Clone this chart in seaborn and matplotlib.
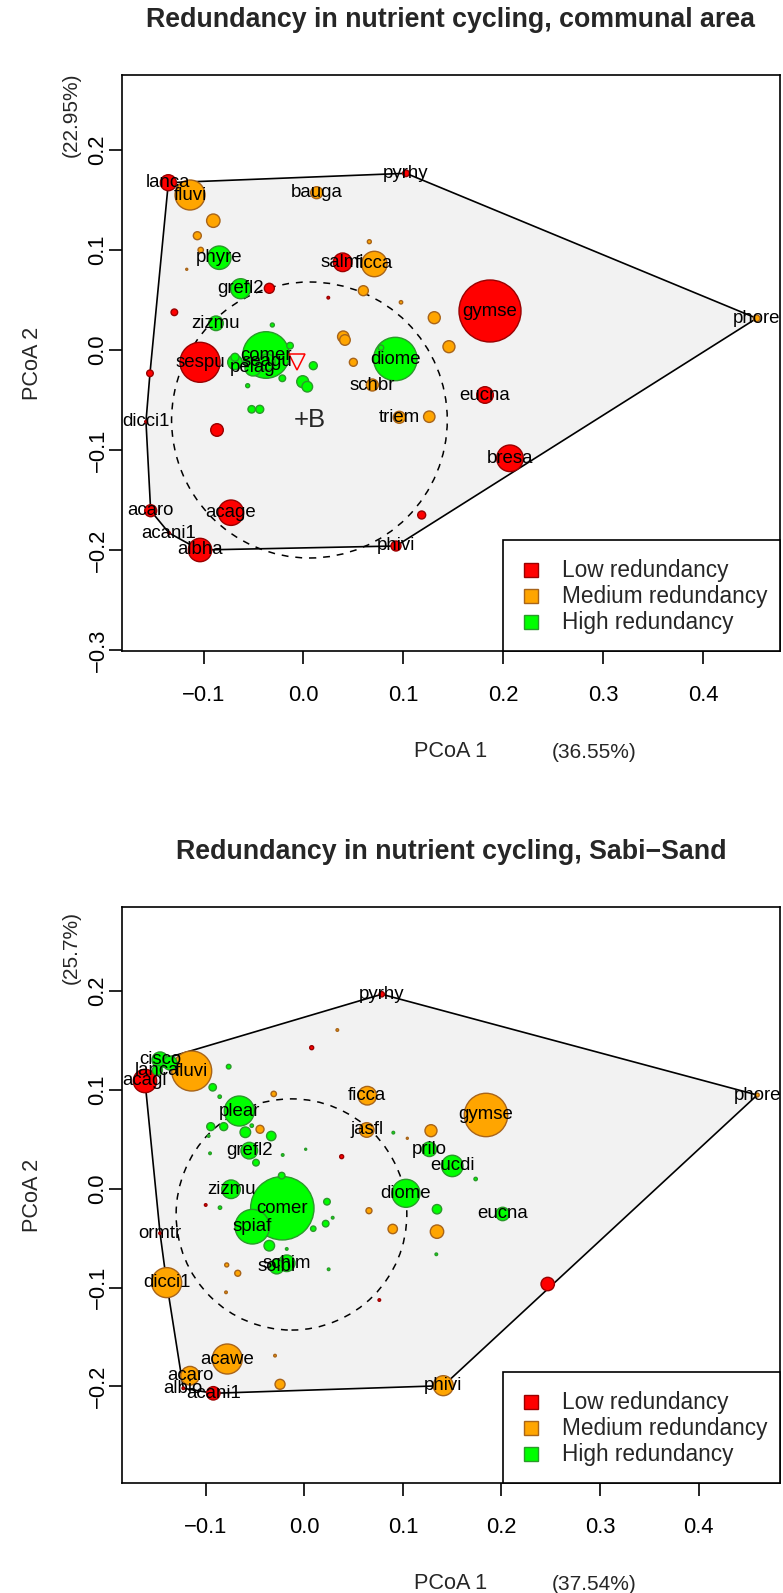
import numpy as np
import pandas as pd
import matplotlib
matplotlib.use("Agg")
import matplotlib.pyplot as plt
import seaborn as sns
from matplotlib.patches import Circle, Polygon, Rectangle

# ---------------- data : communal area ----------------
c_name = ["lanca", "fluvi", "bauga", "pyrhy", "", "", "", "", "phyre", "salmi",
          "ficca", "", "grefl2", "", "", "", "", "", "", "zizmu",
          "", "", "", "", "sespu", "comer", "", "", "pelag", "seagu",
          "", "", "", "", "", "", "", "", "", "diome",
          "", "", "schbr", "triem", "", "", "dicci1", "acaro", "acani1", "albha",
          "acage", "", "phivi", "gymse", "phore", "eucna", "bresa"]
c_x = [-0.1352, -0.1135, 0.0133, 0.1027, -0.0902, -0.1062, -0.1028, -0.1168, -0.0842, 0.0393,
       0.0710, 0.0660, -0.0628, -0.0341, 0.0249, 0.0600, 0.0977, 0.1310, -0.1292, -0.0875,
       -0.0311, 0.0399, 0.0416, 0.1457, -0.1035, -0.0374, -0.0685, -0.0685, -0.0505, -0.0364,
       -0.0134, 0.0099, -0.0211, -0.0558, -0.0007, 0.0039, -0.0518, -0.0437, -0.0865, 0.0920,
       0.0500, 0.0777, 0.0690, 0.0960, 0.1260, -0.1536, -0.1576, -0.1529, -0.1345, -0.1035,
       -0.0725, 0.1184, 0.0927, 0.1868, 0.4537, 0.1818, 0.2068]
c_y = [0.1673, 0.1550, 0.1573, 0.1767, 0.1293, 0.1143, 0.1000, 0.0807, 0.0923, 0.0877,
       0.0860, 0.1083, 0.0613, 0.0617, 0.0523, 0.0593, 0.0477, 0.0323, 0.0377, 0.0267,
       0.0250, 0.0133, 0.0100, 0.0033, -0.0123, -0.0050, -0.0123, -0.0073, -0.0180, -0.0120,
       0.0043, -0.0157, -0.0283, -0.0357, -0.0317, -0.0367, -0.0593, -0.0593, -0.0800, -0.0090,
       -0.0123, 0.0023, -0.0350, -0.0673, -0.0667, -0.0233, -0.0717, -0.1607, -0.1830, -0.2000,
       -0.1627, -0.1650, -0.1960, 0.0390, 0.0317, -0.0450, -0.1083]
c_w = [8, 15, 6, 3.3, 6.7, 4, 2.7, 1, 11.7, 9.3,
       12.7, 2, 10, 5, 1.3, 5, 1.7, 6, 3.3, 7.3,
       2, 5.7, 5.3, 6, 20, 23.3, 7.3, 4, 8, 8,
       3.3, 4, 3.3, 2, 6, 5.3, 3.7, 4, 6.3, 21.7,
       4, 2.7, 6, 6, 5.7, 3.3, 1.3, 6, 1.3, 11.7,
       12.7, 4, 5, 31, 3.3, 8.3, 13.3]
c_lvl = ["L", "M", "M", "L", "M", "M", "M", "M", "H", "L",
         "M", "M", "H", "L", "L", "M", "M", "M", "L", "H",
         "H", "M", "M", "M", "L", "H", "H", "H", "H", "H",
         "H", "H", "H", "H", "H", "H", "H", "H", "L", "H",
         "M", "H", "M", "M", "M", "L", "L", "L", "L", "L",
         "L", "L", "L", "L", "M", "L", "L"]
c_centroid = (0.006, -0.070)
c_radius = 0.138
c_tri = (-0.0067, -0.0117)

# ---------------- data : Sabi-Sand ----------------
s_name = ["pyrhy", "", "", "cisco", "lanca", "acagl", "fluvi", "", "", "",
          "", "plear", "ficca", "jasfl", "", "", "", "prilo", "", "",
          "", "", "", "", "", "grefl2", "", "", "", "",
          "", "comer", "spiaf", "zizmu", "", "", "", "", "", "",
          "", "", "", "schim", "solbi", "", "", "", "", "",
          "diome", "", "", "", "", "", "ormtr", "dicci1", "gymse", "phore",
          "eucdi", "", "eucna", "", "acawe", "", "acaro", "", "acani1", "albio",
          "phivi", ""]
s_x = [0.0785, 0.0335, 0.0075, -0.1463, -0.1490, -0.1616, -0.1142, -0.0767, -0.0929, -0.0858,
       -0.0310, -0.0659, 0.0639, 0.0633, 0.0903, 0.1045, 0.1285, 0.1268, -0.0949, -0.0817,
       -0.0533, -0.0598, -0.0449, -0.0335, -0.0970, -0.0558, -0.0956, -0.0219, 0.0014, 0.0379,
       -0.0490, -0.0223, -0.0527, -0.0743, -0.1000, -0.0855, -0.0229, -0.0355, 0.0230, 0.0217,
       0.0288, 0.0091, -0.0178, -0.0178, -0.0280, 0.0247, -0.0787, -0.0675, -0.0794, 0.0761,
       0.1031, 0.0656, 0.0897, 0.1346, 0.1346, 0.1339, -0.1463, -0.1396, 0.1843, 0.4594,
       0.1501, 0.1738, 0.2012, 0.2469, -0.0781, -0.0297, -0.1159, -0.0246, -0.0923, -0.1227,
       0.1410, -0.1362]
s_y = [0.1969, 0.1607, 0.1428, 0.1304, 0.1200, 0.1091, 0.1192, 0.1236, 0.1027, 0.0932,
       0.0960, 0.0787, 0.0942, 0.0595, 0.0568, 0.0511, 0.0588, 0.0400, 0.0629, 0.0629,
       0.0639, 0.0572, 0.0602, 0.0534, 0.0534, 0.0386, 0.0359, 0.0342, 0.0400, 0.0325,
       0.0264, -0.0197, -0.0384, -0.0005, -0.0164, -0.0191, 0.0133, -0.0576, -0.0131, -0.0353,
       -0.0293, -0.0404, -0.0609, -0.0754, -0.0788, -0.0815, -0.0771, -0.0855, -0.1048, -0.1126,
       -0.0046, -0.0222, -0.0407, -0.0207, -0.0434, -0.0663, -0.0450, -0.0950, 0.0747, 0.0949,
       0.0231, 0.0099, -0.0255, -0.0964, -0.1723, -0.1689, -0.1892, -0.1979, -0.2070, -0.2019,
       -0.1993, 0.1273]
s_w = [2.7, 1.3, 2, 8, 5, 11.7, 20, 2.3, 3.7, 1.7,
       2.7, 15, 9.3, 7.3, 1.3, 1, 6, 7.3, 4, 4,
       1.7, 5.3, 4, 4.7, 1.3, 8.3, 1.3, 1.3, 1, 2,
       3.3, 31.7, 17.3, 9.3, 1.3, 1.7, 3.3, 5.3, 3.3, 3.3,
       1.3, 2.7, 1.3, 8.3, 7.3, 1.3, 2, 3, 1.3, 1.3,
       14, 3, 4.7, 4.7, 6.7, 1.3, 1.3, 15, 21.7, 2,
       10.7, 1.7, 6.7, 6.7, 15, 1.3, 9.3, 5, 6.7, 1.3,
       10, 7]
s_lvl = ["L", "M", "L", "H", "H", "L", "M", "H", "H", "H",
         "M", "H", "M", "M", "H", "M", "M", "H", "H", "H",
         "H", "H", "M", "H", "H", "H", "H", "H", "H", "L",
         "H", "H", "H", "H", "L", "H", "H", "H", "H", "H",
         "H", "H", "H", "H", "H", "H", "M", "M", "M", "L",
         "H", "M", "M", "H", "M", "H", "L", "M", "M", "M",
         "H", "H", "H", "L", "M", "M", "M", "M", "L", "L",
         "M", "H"]
s_centroid = (-0.013, -0.026)
s_radius = 0.117

levels = ["L", "M", "H"]
level_labels = ["Low redundancy", "Medium redundancy", "High redundancy"]
fill_pal = {"L": "#FF0000", "M": "#FFA500", "H": "#00FF00"}
edge_pal = {"L": "#9A0000", "M": "#A8641A", "H": "#2A9A2A"}

panel_titles = ["Redundancy in nutrient cycling, communal area",
                "Redundancy in nutrient cycling, Sabi\u2212Sand"]
xvar = ["(36.55%)", "(37.54%)"]
yvar = ["(22.95%)", "(25.7%)"]
xticks = [-0.1, 0.0, 0.1, 0.2, 0.3, 0.4]
yticks1 = [-0.3, -0.2, -0.1, 0.0, 0.1, 0.2]
yticks2 = [-0.2, -0.1, 0.0, 0.1, 0.2]

# ---------------- figure ----------------
sns.set_style("white")
plt.rcParams["font.family"] = ["Liberation Sans", "DejaVu Sans"]

W, H = 783, 1593
fig = plt.figure(figsize=(W / 100, H / 100), dpi=100)
AX_L, AX_R, AX_H = 121.7, 780, 576


def rect(l, t, r, b):
    return [l / W, 1 - b / H, (r - l) / W, (b - t) / H]


def hull(pts):
    pts = sorted(set(map(tuple, pts)))

    def cross(o, a, b):
        return (a[0] - o[0]) * (b[1] - o[1]) - (a[1] - o[1]) * (b[0] - o[0])
    lower, upper = [], []
    for p in pts:
        while len(lower) >= 2 and cross(lower[-2], lower[-1], p) <= 0:
            lower.pop()
        lower.append(p)
    for p in reversed(pts):
        while len(upper) >= 2 and cross(upper[-2], upper[-1], p) <= 0:
            upper.pop()
        upper.append(p)
    return lower[:-1] + upper[:-1]


def fmt(v):
    return ("%.1f" % v).replace("-", "\u2212")


def legend_box(ax):
    aw = AX_R - AX_L
    fx = lambda px: (px - AX_L) / aw
    fy = lambda px: px / AX_H          # px above the axes bottom
    ax.add_patch(Rectangle((fx(502.7), 0), 1 - fx(502.7), fy(111), transform=ax.transAxes,
                           facecolor="white", edgecolor="black", lw=1.2, zorder=6,
                           clip_on=False))
    rows = [81.0, 55.0, 29.0]
    sq = 14.5
    for l, lab, ry in zip(levels, level_labels, rows):
        ax.add_patch(Rectangle((fx(531 - sq / 2), fy(ry - sq / 2)), sq / aw, sq / AX_H,
                               transform=ax.transAxes, facecolor=fill_pal[l],
                               edgecolor=edge_pal[l], lw=1.0, zorder=7))
        ax.text(fx(561.6), fy(ry), lab, transform=ax.transAxes, ha="left", va="center",
                fontsize=16.3, zorder=7)


def panel(ax, name, x, y, w, lvl, centroid, radius, xlim, ylim, yticks):
    df = pd.DataFrame({"name": name, "x": x, "y": y, "w": w, "level": lvl})
    ax.set_xlim(*xlim)
    ax.set_ylim(*ylim)
    hp = hull(df[["x", "y"]].values)
    ax.add_patch(Polygon(hp, closed=True, facecolor="#F2F2F2", edgecolor="black",
                         lw=1.2, zorder=1))
    ax.add_patch(Circle(centroid, radius, fill=False, edgecolor="black", lw=1.1,
                        linestyle=(0, (4.5, 4.5)), zorder=2))
    d = df.sort_values("w", ascending=False).reset_index(drop=True)
    d["area"] = (1.44 * d["w"]) ** 2
    amin, amax = d["area"].min(), d["area"].max()
    sns.scatterplot(data=d, x="x", y="y", hue="level", hue_order=levels,
                    palette=fill_pal, size="area", sizes=(amin, amax),
                    size_norm=(amin, amax), legend=False, ax=ax, zorder=3)
    coll = ax.collections[-1]
    coll.set_edgecolors([edge_pal[l] for l in d["level"]])
    coll.set_linewidths(1.0)
    for _, r in df[df["name"] != ""].iterrows():
        ax.text(r["x"], r["y"], r["name"], ha="center", va="center",
                fontsize=13.4, color="black", zorder=5)
    ax.set_xticks(xticks)
    ax.set_xticklabels([fmt(v) for v in xticks])
    ax.set_yticks(yticks)
    ax.set_yticklabels([fmt(v) for v in yticks], rotation=90, va="center")
    ax.tick_params(axis="both", direction="out", length=9.5, width=1.2,
                   labelsize=15.8, colors="black", bottom=True, left=True)
    ax.tick_params(axis="x", pad=15)
    ax.tick_params(axis="y", pad=0)
    ax.set_xlabel("")
    ax.set_ylabel("")
    for s in ax.spines.values():
        s.set_visible(True)
        s.set_color("black")
        s.set_linewidth(1.2)
    legend_box(ax)


ax1 = fig.add_axes(rect(AX_L, 75, AX_R, 75 + AX_H))
panel(ax1, c_name, c_x, c_y, c_w, c_lvl, c_centroid, c_radius,
      (-0.1819, 0.4771), (-0.301, 0.275), yticks1)
ax1.plot([c_tri[0]], [c_tri[1]], marker="v", markersize=11, markerfacecolor="none",
         markeredgecolor="red", markeredgewidth=1.1, zorder=4)
ax1.text(c_centroid[0], c_centroid[1], "+B", ha="center", va="center", fontsize=18.5,
         zorder=5)

ax2 = fig.add_axes(rect(AX_L, 907, AX_R, 907 + AX_H))
panel(ax2, s_name, s_x, s_y, s_w, s_lvl, s_centroid, s_radius,
      (-0.1852, 0.4825), (-0.2978, 0.2852), yticks2)

# titles and axis texts
for i, off in enumerate([0, 832]):
    fig.text(451 / W, 1 - (20.3 + off) / H, panel_titles[i], ha="center", va="center",
             fontsize=19.3, fontweight="bold")
    fig.text(451 / W, 1 - (751.5 + off) / H, "PCoA 1", ha="center", va="center",
             fontsize=15.6)
    fig.text(594 / W, 1 - (752.5 + off) / H, xvar[i], ha="center", va="center",
             fontsize=15)
    fig.text(32.5 / W, 1 - (363 + off) / H, "PCoA 2", ha="center", va="center",
             fontsize=15.6, rotation=90)
    fig.text(71 / W, 1 - (115 + off) / H, yvar[i], ha="center", va="center",
             fontsize=15, rotation=90)

fig.savefig("out.png", dpi=100)
